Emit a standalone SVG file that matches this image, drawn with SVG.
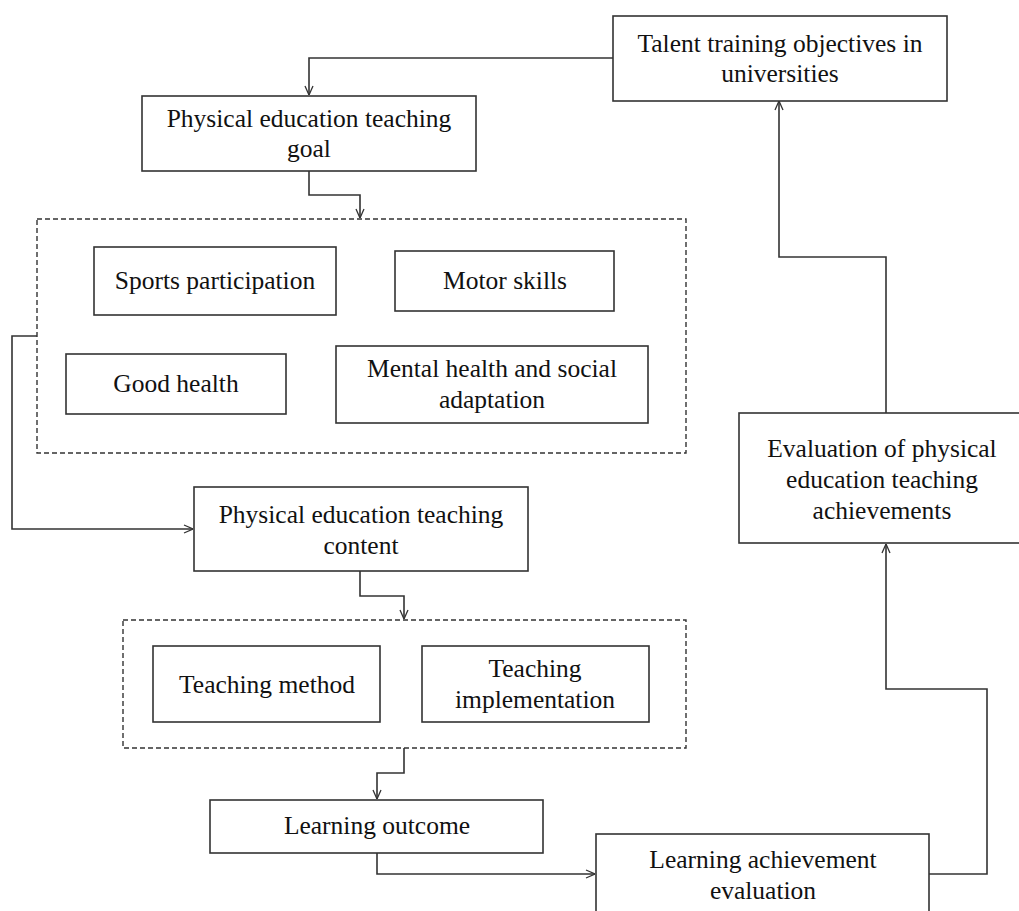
<svg xmlns="http://www.w3.org/2000/svg" width="1019" height="911" viewBox="0 0 1019 911">
<defs>
<marker id="arr" viewBox="0 0 10 10" refX="10" refY="5" markerWidth="10" markerHeight="10" markerUnits="userSpaceOnUse" orient="auto">
<polyline points="1,1 10,5 1,9" fill="none" stroke="#333" stroke-width="1.3"/>
</marker>
<style>
.box{fill:#fff;stroke:#333;stroke-width:1.6}
.dash{fill:none;stroke:#333;stroke-width:1.4;stroke-dasharray:5 3}
.ln{fill:none;stroke:#333;stroke-width:1.6}
.t{font-family:"Liberation Serif","Times New Roman",serif;font-size:25.5px;fill:#111;text-anchor:middle}
</style>
</defs>
<rect width="1019" height="911" fill="#fff"/>
<g id="connectors">
<polyline class="ln" points="613,58 309,58 309,95" marker-end="url(#arr)"/>
<polyline class="ln" points="309,171 309,195 360,195 360,218" marker-end="url(#arr)"/>
<polyline class="ln" points="37,336 12,336 12,529 193,529" marker-end="url(#arr)"/>
<polyline class="ln" points="360,571 360,596 404,596 404,619" marker-end="url(#arr)"/>
<polyline class="ln" points="404,748 404,773 377,773 377,799" marker-end="url(#arr)"/>
<polyline class="ln" points="377,853 377,874 595,874" marker-end="url(#arr)"/>
<polyline class="ln" points="929,874 987,874 987,689 886,689 886,544" marker-end="url(#arr)"/>
<polyline class="ln" points="886,413 886,257 779,257 779,101" marker-end="url(#arr)"/>
</g>
<g id="talent">
<rect class="box" x="613" y="16" width="334" height="85"/>
<text class="t" x="780" y="52">Talent training objectives in</text>
<text class="t" x="780" y="82">universities</text>
</g>
<g id="pe-goal">
<rect class="box" x="142" y="96" width="334" height="75"/>
<text class="t" x="309" y="127">Physical education teaching</text>
<text class="t" x="309" y="157">goal</text>
</g>
<g id="goal-group">
<rect class="dash" x="37" y="219" width="649" height="234"/>
</g>
<g id="sports">
<rect class="box" x="94" y="247" width="242" height="68"/>
<text class="t" x="215" y="289">Sports participation</text>
</g>
<g id="motor">
<rect class="box" x="395" y="251" width="219" height="60"/>
<text class="t" x="505" y="289">Motor skills</text>
</g>
<g id="good-health">
<rect class="box" x="66" y="354" width="220" height="60"/>
<text class="t" x="176" y="392">Good health</text>
</g>
<g id="mental">
<rect class="box" x="336" y="346" width="312" height="77"/>
<text class="t" x="492" y="377">Mental health and social</text>
<text class="t" x="492" y="408">adaptation</text>
</g>
<g id="pe-content">
<rect class="box" x="194" y="487" width="334" height="84"/>
<text class="t" x="361" y="523">Physical education teaching</text>
<text class="t" x="361" y="554">content</text>
</g>
<g id="method-group">
<rect class="dash" x="123" y="620" width="563" height="128"/>
</g>
<g id="method">
<rect class="box" x="153" y="646" width="227" height="76"/>
<text class="t" x="267" y="693">Teaching method</text>
</g>
<g id="implementation">
<rect class="box" x="422" y="646" width="227" height="76"/>
<text class="t" x="535" y="677">Teaching</text>
<text class="t" x="535" y="708">implementation</text>
</g>
<g id="learning-outcome">
<rect class="box" x="210" y="800" width="333" height="53"/>
<text class="t" x="377" y="834">Learning outcome</text>
</g>
<g id="learning-eval">
<rect class="box" x="596" y="834" width="333" height="90"/>
<text class="t" x="763" y="868">Learning achievement</text>
<text class="t" x="763" y="899">evaluation</text>
</g>
<g id="pe-eval">
<rect class="box" x="739" y="413" width="290" height="130"/>
<text class="t" x="882" y="457">Evaluation of physical</text>
<text class="t" x="882" y="488">education teaching</text>
<text class="t" x="882" y="519">achievements</text>
</g>
</svg>
